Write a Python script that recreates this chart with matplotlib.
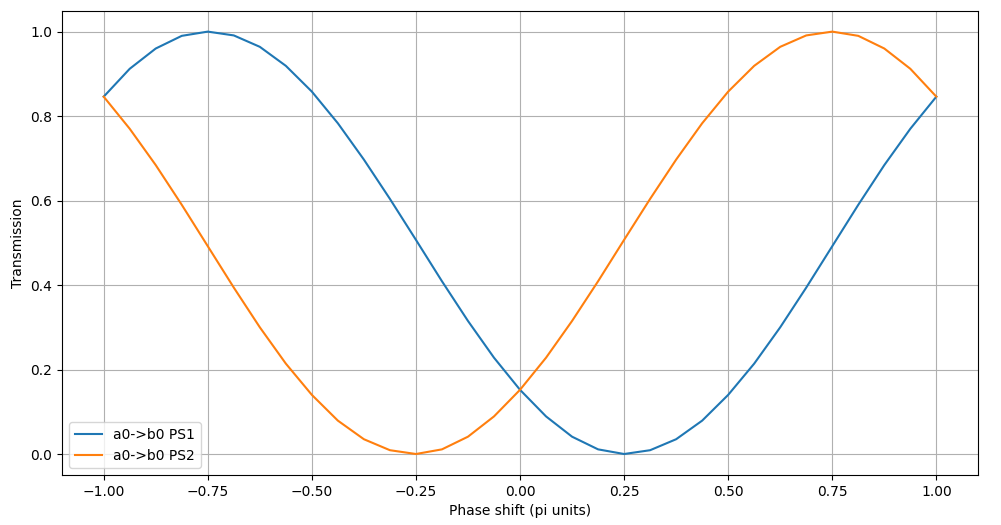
import matplotlib
matplotlib.use("Agg")
import matplotlib.pyplot as plt

phase = [-1 + k * 0.0625 for k in range(33)]
ps1 = [0.846, 0.912, 0.960, 0.990, 1.000, 0.991, 0.964, 0.919, 0.858, 0.783, 0.697, 0.604,
       0.507, 0.409, 0.315, 0.228, 0.152, 0.089, 0.041, 0.011, 0.000, 0.009, 0.035, 0.079,
       0.140, 0.214, 0.300, 0.394, 0.492, 0.590, 0.684, 0.770, 0.846]
ps2 = ps1[::-1]

fig, ax = plt.subplots(figsize=(10.01, 5.25), dpi=100)
ax.plot(phase, ps1, label="a0->b0 PS1")
ax.plot(phase, ps2, label="a0->b0 PS2")
ax.set_xlabel("Phase shift (pi units)")
ax.set_ylabel("Transmission")
ax.set_xticks([-1, -0.75, -0.5, -0.25, 0, 0.25, 0.5, 0.75, 1])
ax.grid(True)
ax.legend(loc="lower left")
fig.subplots_adjust(left=0.062, right=0.977, top=0.98, bottom=0.095)
fig.savefig("out.png")
